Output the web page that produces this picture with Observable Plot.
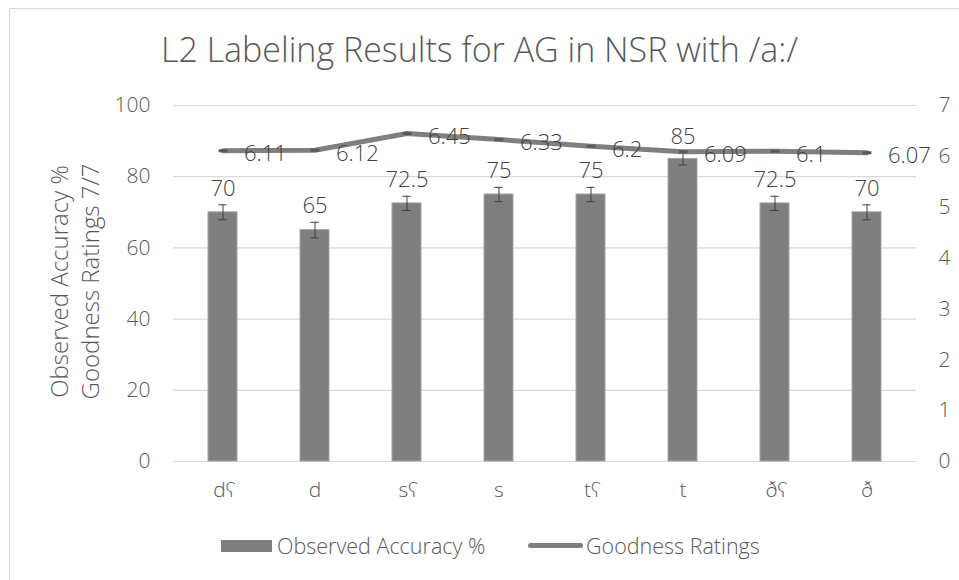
<!DOCTYPE html>
<html>
<head>
<meta charset="utf-8">
<script src="https://cdn.jsdelivr.net/npm/d3@7"></script>
<script src="https://cdn.jsdelivr.net/npm/@observablehq/plot@0.6"></script>
<style>
  body { margin: 0; background: #fff; font-family: "Open Sans", Lato, sans-serif; }
  #wrap { position: relative; width: 959px; height: 580px; overflow: hidden; background: #fff; }
  #border { position: absolute; left: 9px; top: 8px; width: 970px; height: 590px; border: 1px solid #d9d9d9; box-sizing: border-box; }
  #title { position: absolute; left: 0; top: 29px; width: 959px; text-align: center; font-size: 34px; font-weight: 300; color: #595959; line-height: 40px; }
  #chart { position: absolute; left: 0; top: 0; }
  .leg { position: absolute; font-size: 21.5px; font-weight: 300; color: #595959; line-height: 26px; }
  .sw-bar { position: absolute; background: #7f7f7f; }
  .sw-line { position: absolute; background: #7f7f7f; border-radius: 3px; }
</style>
</head>
<body>
<div id="wrap">
  <div id="border"></div>
  <div id="chart"></div>
  <div id="title">L2 Labeling Results for AG in NSR with /a:/</div>
  <div class="sw-bar" style="left:221px;top:540px;width:51px;height:12px;"></div>
  <div class="leg" style="left:277px;top:533px;">Observed Accuracy %</div>
  <div class="sw-line" style="left:528px;top:543px;width:55px;height:5px;"></div>
  <div class="leg" style="left:586px;top:533px;">Goodness Ratings</div>
</div>
<script>
const categories = ["dʕ", "d", "sʕ", "s", "tʕ", "t", "ðʕ", "ð"];
const accuracy = [70, 65, 72.5, 75, 75, 85, 72.5, 70];
const accuracyErr = [2.1, 2.2, 2.0, 2.0, 2.0, 1.7, 2.0, 2.1];
const goodness = [6.11, 6.12, 6.45, 6.33, 6.2, 6.09, 6.1, 6.07];
const leftTicks = [0, 20, 40, 60, 80, 100];
const rightTicks = [0, 1, 2, 3, 4, 5, 6, 7];
const yTitles = ["Observed Accuracy %", "Goodness Ratings 7/7"];

const k = 100 / 7; // right axis (0–7) onto left axis (0–100)
const data = categories.map((c, i) => ({c, acc: accuracy[i], err: accuracyErr[i], good: goodness[i]}));

const dash = {
  draw(context, size) {
    const w = Math.sqrt(size);
    context.rect(-w, -1.5, 2 * w, 3);
  }
};

const F = "'Open Sans', Lato, sans-serif";
const plot = Plot.plot({
  width: 959,
  height: 580,
  marginTop: 105,
  marginBottom: 119,
  marginLeft: 173,
  marginRight: 43,
  style: {fontFamily: F, fontSize: "21px", fontWeight: 300, color: "#595959", background: "transparent"},
  x: {domain: categories, paddingInner: 0.69, paddingOuter: 0.345, tickSize: 0, tickPadding: 21, label: null},
  y: {domain: [0, 100], ticks: leftTicks, tickSize: 0, tickPadding: 23, label: null},
  marks: [
    Plot.ruleY(leftTicks, {stroke: "#d9d9d9", strokeWidth: 1.2}),
    Plot.barY(data, {x: "c", y: "acc", fill: "#7f7f7f", stroke: "#a5a5a5", strokeWidth: 1}),
    Plot.ruleX(data, {x: "c", y1: d => d.acc - d.err, y2: d => d.acc + d.err, stroke: "#404040", strokeWidth: 1}),
    Plot.tickY(data, {x: "c", y: d => d.acc + d.err, stroke: "#404040", inset: 10.4}),
    Plot.tickY(data, {x: "c", y: d => d.acc - d.err, stroke: "#404040", inset: 10.4}),
    Plot.text(data, {x: "c", y: d => d.acc + d.err, text: d => String(d.acc), dy: -16, fontSize: 22, fill: "#404040"}),
    Plot.line(data, {x: "c", y: d => d.good * k, stroke: "#7f7f7f", strokeWidth: 5}),
    Plot.dot(data, {x: "c", y: d => d.good * k, symbol: dash, r: 2.5, fill: "#595959", stroke: "none"}),
    Plot.text(data, {x: "c", y: d => d.good * k, text: d => String(d.good), dx: 21, dy: 3.5, textAnchor: "start", fontSize: 22, fill: "#404040"}),
    Plot.text(rightTicks, {y: d => d * k, text: d => String(d), frameAnchor: "right", dx: 22, textAnchor: "start", fontSize: 21, fill: "#595959"}),
    Plot.text([yTitles[0]], {frameAnchor: "left", dx: -113, dy: -2, rotate: -90, textAnchor: "middle", fontSize: 24, fill: "#595959"}),
    Plot.text([yTitles[1]], {frameAnchor: "left", dx: -82, dy: -2, rotate: -90, textAnchor: "middle", fontSize: 24, fill: "#595959"})
  ]
});
document.getElementById("chart").appendChild(plot);
</script>
</body>
</html>
